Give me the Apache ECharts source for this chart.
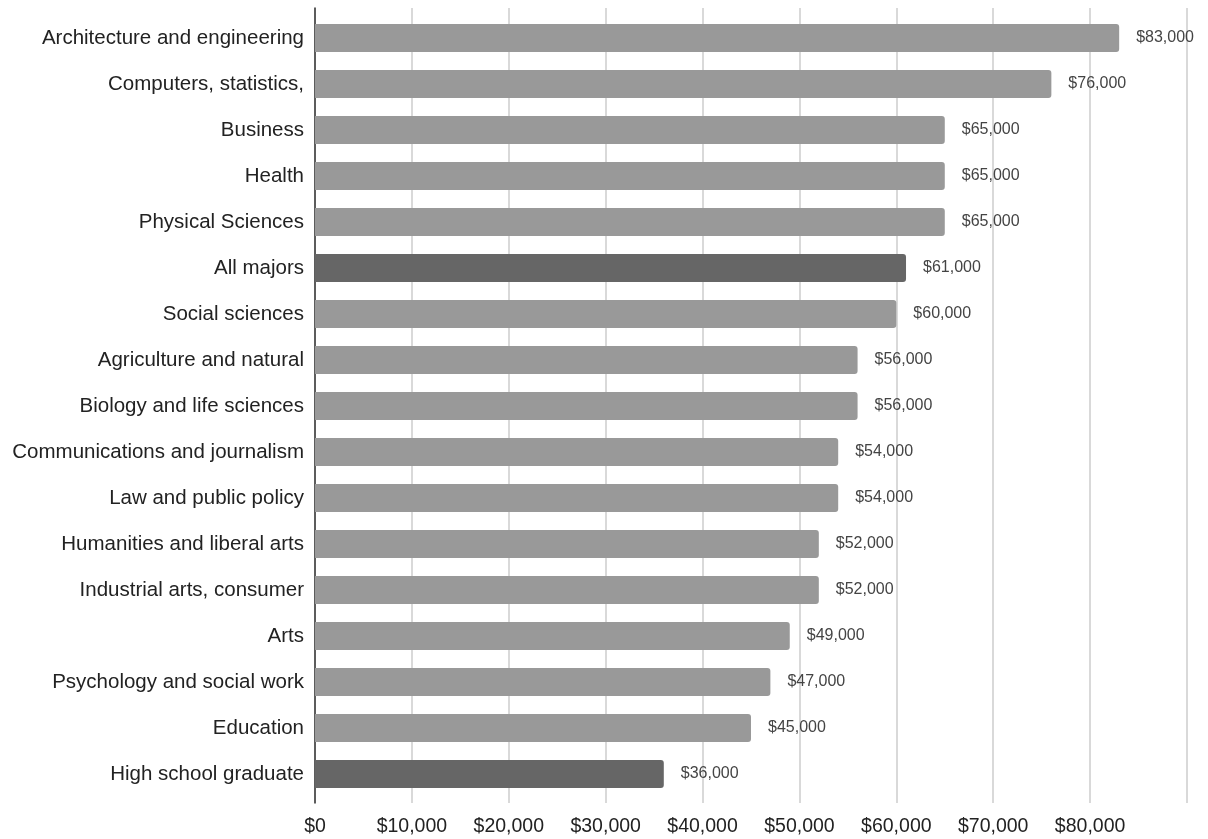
<!DOCTYPE html>
<html>
<head>
<meta charset="utf-8">
<script src="https://cdn.jsdelivr.net/npm/echarts@6/dist/echarts.min.js"></script>
<style>html,body{margin:0;padding:0;background:#fff}#c{width:1208px;height:839px}</style>
</head>
<body>
<div id="c"></div>
<script>
const categories = ["Architecture and engineering","Computers, statistics,","Business","Health","Physical Sciences","All majors","Social sciences","Agriculture and natural","Biology and life sciences","Communications and journalism","Law and public policy","Humanities and liberal arts","Industrial arts, consumer","Arts","Psychology and social work","Education","High school graduate"];
const earnings = [83000,76000,65000,65000,65000,61000,60000,56000,56000,54000,54000,52000,52000,49000,47000,45000,36000];
const highlighted = ["All majors","High school graduate"];
const tickLabels = ["$0","$10,000","$20,000","$30,000","$40,000","$50,000","$60,000","$70,000","$80,000",""];

const font = 'Liberation Sans, Arial, sans-serif';
const chart = echarts.init(document.getElementById('c'), null, {renderer:'canvas'});
const fmt = v => '$' + v.toLocaleString('en-US');
chart.setOption({
  animation:false,
  grid:[
    {left:315,right:21,top:8,bottom:36},
    {left:315,right:21,top:15,bottom:42}
  ],
  xAxis:[
    {gridIndex:0,type:'value',min:0,max:90000,interval:10000,
     axisLine:{show:false},axisTick:{show:false},
     splitLine:{show:true,lineStyle:{color:'#cccccc',width:1.5}},
     axisLabel:{color:'#222',fontSize:19.5,fontFamily:font,margin:14,
       formatter:(v)=>tickLabels[Math.round(v/10000)]}},
    {gridIndex:1,type:'value',min:0,max:90000,interval:10000,show:false,splitLine:{show:false}}
  ],
  yAxis:[
    {gridIndex:0,type:'category',data:[''],axisLine:{show:true,lineStyle:{color:'#333',width:1.5}},
     axisTick:{show:false},axisLabel:{show:false},splitLine:{show:false}},
    {gridIndex:1,type:'category',data:categories,inverse:true,
     axisLine:{show:false},axisTick:{show:false},splitLine:{show:false},
     axisLabel:{color:'#222',fontSize:20.5,fontFamily:font,margin:11,padding:[3,0,0,0]}}
  ],
  series:[{
    type:'bar',xAxisIndex:1,yAxisIndex:1,barWidth:28,
    data:earnings.map((v,i)=>({value:v,itemStyle:{color:highlighted.includes(categories[i])?'#666666':'#999999'}})),
    itemStyle:{borderRadius:[0,3,3,0]},
    label:{show:true,position:'right',distance:17,color:'#444',fontSize:16,fontFamily:font,
      formatter:p=>fmt(p.value)}
  }]
});
</script>
</body>
</html>
